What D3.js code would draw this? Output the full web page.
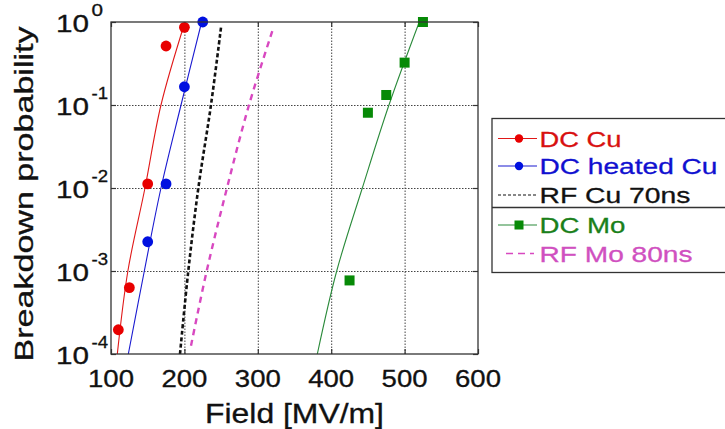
<!DOCTYPE html>
<html>
<head>
<meta charset="utf-8">
<script src="https://cdn.jsdelivr.net/npm/d3@7"></script>
<style>
  body { margin: 0; background: #fff; }
  svg { display: block; font-family: "Liberation Sans", Arial, sans-serif; }
  svg text { stroke-width: 0.3px; }
</style>
</head>
<body>
<script>
// x ticks and y decades
const xTicks = [100, 200, 300, 400, 500, 600]
const yTicks = [1e-4, 1e-3, 1e-2, 1e-1, 1]
const yExp = ['-4', '-3', '-2', '-1', '0']

// measured points
const dcCuE = [110, 125, 150, 175, 200]
const dcCuP = [1.96e-4, 6.3e-4, 0.0112, 0.514, 0.863]
const heatCuE = [150, 175, 200, 225]
const heatCuP = [2.25e-3, 0.0112, 0.166, 1.0]
const dcMoE = [425, 450, 475, 500, 525]
const dcMoP = [7.7e-4, 0.0807, 0.132, 0.324, 1.0]

// fitted curves (E, P)
const fitP = [1e-4, 1e-3, 1e-2, 1e-1, 1]
const dcCuFitE = [108.6, 123, 146.3, 168.1, 200.8]
const heatCuFitE = [123.6, 145.4, 168.1, 195.4, 223.5]
const dcMoFitE = [381.1, 407.5, 442.4, 478.7, 520]
const rfCuE = [194, 205.3, 219, 236.2, 250]
const rfCuP = [1e-4, 1e-3, 1e-2, 1e-1, 0.877]
const rfMoE = [209, 230.4, 258, 288, 321]
const rfMoP = [1.26e-4, 1e-3, 1e-2, 1e-1, 0.84]

const legendNames = ['DC Cu', 'DC heated Cu', 'RF Cu 70ns', 'DC Mo', 'RF Mo 80ns']

const W = 725, H = 429
const pL = 111, pR = 478, pT = 22, pB = 354

const svg = d3.select('body').append('svg')
  .attr('width', W).attr('height', H)

const x = d3.scaleLinear().domain([100, 600]).range([pL, pR])
const y = d3.scaleLog().domain([1e-4, 1]).range([pB, pT])

// dotted grid
const grid = svg.append('g').attr('class', 'grid')
grid.append('g')
  .attr('transform', `translate(0,${pB})`)
  .call(d3.axisBottom(x).tickValues(xTicks.slice(1, -1)).tickSize(-(pB - pT)).tickFormat(''))
grid.append('g')
  .attr('transform', `translate(${pL},0)`)
  .call(d3.axisLeft(y).tickValues(yTicks.slice(1, -1)).tickSize(-(pR - pL)).tickFormat(''))
grid.selectAll('.domain').remove()
grid.selectAll('line')
  .attr('stroke', '#444')
  .attr('stroke-width', 1)
  .attr('stroke-dasharray', '1.5,1.5')

// small inward ticks on all sides
function ticksOnly(g) {
  g.selectAll('.domain').remove()
  g.selectAll('line').attr('stroke', '#333').attr('stroke-width', 1.2)
}
svg.append('g').attr('transform', `translate(0,${pB})`)
  .call(d3.axisBottom(x).tickValues(xTicks).tickSize(-5).tickFormat('')).call(ticksOnly)
svg.append('g').attr('transform', `translate(0,${pT})`)
  .call(d3.axisTop(x).tickValues(xTicks).tickSize(-5).tickFormat('')).call(ticksOnly)
svg.append('g').attr('transform', `translate(${pL},0)`)
  .call(d3.axisLeft(y).tickValues(yTicks).tickSize(-5).tickFormat('')).call(ticksOnly)
svg.append('g').attr('transform', `translate(${pR},0)`)
  .call(d3.axisRight(y).tickValues(yTicks).tickSize(-5).tickFormat('')).call(ticksOnly)

// x tick labels
svg.append('g').selectAll('text')
  .data(xTicks)
  .join('text')
  .attr('x', d => x(d))
  .attr('y', 387)
  .attr('text-anchor', 'middle')
  .attr('font-size', 24)
  .attr('textLength', 46)
  .attr('lengthAdjust', 'spacingAndGlyphs')
  .attr('fill', '#111').attr('stroke', '#111')
  .text(d => d)

// y tick labels 10^n
const yl = svg.append('g').selectAll('g')
  .data(yTicks)
  .join('g')
  .attr('transform', d => `translate(0,${y(d)})`)
yl.append('text')
  .attr('x', 56).attr('y', 10)
  .attr('font-size', 23)
  .attr('textLength', 33)
  .attr('lengthAdjust', 'spacingAndGlyphs')
  .attr('fill', '#111').attr('stroke', '#111')
  .text('10')
yl.append('text')
  .attr('x', 91.5).attr('y', -6)
  .attr('font-size', 16)
  .attr('textLength', (d, i) => yExp[i].length > 1 ? 16.5 : 11.5)
  .attr('lengthAdjust', 'spacingAndGlyphs')
  .attr('fill', '#111').attr('stroke', '#111')
  .text((d, i) => yExp[i])

// axis titles
svg.append('text')
  .attr('x', 205).attr('y', 422.5)
  .attr('font-size', 27)
  .attr('textLength', 179)
  .attr('lengthAdjust', 'spacingAndGlyphs')
  .attr('fill', '#111').attr('stroke', '#111')
  .text('Field [MV/m]')
svg.append('text')
  .attr('transform', 'translate(33,194) rotate(-90)')
  .attr('text-anchor', 'middle')
  .attr('font-size', 26)
  .attr('textLength', 335)
  .attr('lengthAdjust', 'spacingAndGlyphs')
  .attr('fill', '#111').attr('stroke', '#111')
  .text('Breakdown probability')

// plot area
const plot = svg.append('g')
svg.append('defs').append('clipPath').attr('id', 'clip')
  .append('rect').attr('x', pL).attr('y', pT - 1).attr('width', pR - pL).attr('height', pB - pT + 1)
const curves = plot.append('g').attr('clip-path', 'url(#clip)')

const line = d3.line()
  .x(d => x(d[0])).y(d => y(d[1]))
  .curve(d3.curveCatmullRom.alpha(0.5))

const series = [
  { E: dcCuFitE, P: fitP, color: '#e01818', width: 1.1, dash: null },
  { E: heatCuFitE, P: fitP, color: '#1a1ad0', width: 1.1, dash: null },
  { E: rfCuE, P: rfCuP, color: '#111', width: 2.6, dash: '4,2.5' },
  { E: rfMoE, P: rfMoP, color: '#d848c0', width: 2.4, dash: '6,5' },
  { E: dcMoFitE, P: fitP, color: '#2a8a3a', width: 1.1, dash: null },
]
curves.selectAll('path.fit')
  .data(series)
  .join('path')
  .attr('class', 'fit')
  .attr('fill', 'none')
  .attr('stroke', d => d.color)
  .attr('stroke-width', d => d.width)
  .attr('stroke-dasharray', d => d.dash)
  .attr('d', d => line(d.E.map((e, i) => [e, d.P[i]])))

// markers
plot.selectAll('circle.cu')
  .data(dcCuE.map((e, i) => [e, dcCuP[i]]))
  .join('circle')
  .attr('class', 'cu')
  .attr('cx', d => x(d[0])).attr('cy', d => y(d[1]))
  .attr('r', 5.4).attr('fill', '#e80000')
plot.selectAll('circle.hc')
  .data(heatCuE.map((e, i) => [e, heatCuP[i]]))
  .join('circle')
  .attr('class', 'hc')
  .attr('cx', d => x(d[0])).attr('cy', d => y(d[1]))
  .attr('r', 5.4).attr('fill', '#0010e0')
plot.selectAll('rect.mo')
  .data(dcMoE.map((e, i) => [e, dcMoP[i]]))
  .join('rect')
  .attr('class', 'mo')
  .attr('x', d => x(d[0]) - 5).attr('y', d => y(d[1]) - 5)
  .attr('width', 10).attr('height', 10)
  .attr('fill', '#078a07')

// frame
svg.append('rect')
  .attr('x', pL).attr('y', pT)
  .attr('width', pR - pL).attr('height', pB - pT)
  .attr('fill', 'none').attr('stroke', '#333').attr('stroke-width', 1.3)

// legend
const lg = svg.append('g')
lg.append('rect')
  .attr('x', 492).attr('y', 118.5).attr('width', 250).attr('height', 154)
  .attr('fill', '#fff').attr('stroke', '#333').attr('stroke-width', 1.3)
lg.append('line')
  .attr('x1', 492).attr('x2', 742).attr('y1', 207.5).attr('y2', 207.5)
  .attr('stroke', '#333').attr('stroke-width', 1.3)

const legendRows = [
  { y: 138.5, color: '#e01818', text: '#d81010', mark: 'circle', mc: '#e80000', dash: null, lw: 1.1, x1: 498, x2: 537 },
  { y: 166, color: '#1a1ad0', text: '#1010d0', mark: 'circle', mc: '#0010e0', dash: null, lw: 1.1, x1: 498, x2: 537 },
  { y: 195, color: '#111', text: '#111', mark: null, dash: '3,2', lw: 1.2, x1: 498, x2: 537 },
  { y: 225, color: '#2a8a3a', text: '#1a801a', mark: 'square', mc: '#078a07', dash: null, lw: 1.1, x1: 498, x2: 537 },
  { y: 253.5, color: '#d848c0', text: '#d050c0', mark: null, dash: '7,5', lw: 1.5, x1: 506, x2: 534 },
]
const textLen = [82, 178, 151, 86, 153]
const row = lg.selectAll('g.row')
  .data(legendRows)
  .join('g')
  .attr('class', 'row')
row.append('line')
  .attr('x1', d => d.x1).attr('x2', d => d.x2)
  .attr('y1', d => d.y).attr('y2', d => d.y)
  .attr('stroke', d => d.color)
  .attr('stroke-width', d => d.lw)
  .attr('stroke-dasharray', d => d.dash)
row.filter(d => d.mark === 'circle').append('circle')
  .attr('cx', 519).attr('cy', d => d.y).attr('r', 4.2).attr('fill', d => d.mc)
row.filter(d => d.mark === 'square').append('rect')
  .attr('x', 514.5).attr('y', d => d.y - 4.5).attr('width', 9).attr('height', 9).attr('fill', d => d.mc)
row.append('text')
  .attr('x', 539.5).attr('y', d => d.y + 8.2)
  .attr('font-size', 22)
  .attr('textLength', (d, i) => textLen[i])
  .attr('lengthAdjust', 'spacingAndGlyphs')
  .attr('fill', d => d.text).attr('stroke', d => d.text)
  .text((d, i) => legendNames[i])
</script>
</body>
</html>
